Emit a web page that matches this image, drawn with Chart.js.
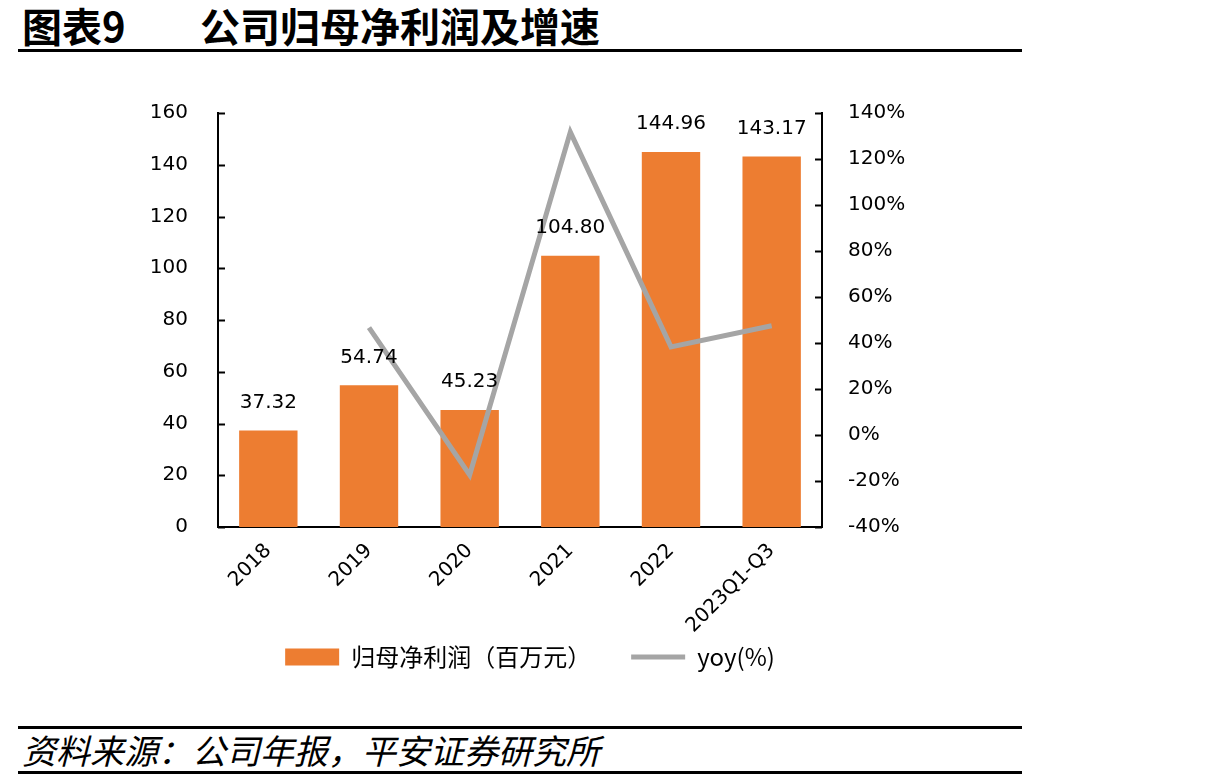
<!DOCTYPE html>
<html>
<head>
<meta charset="utf-8">
<script src="https://cdn.jsdelivr.net/npm/chart.js@4.4.0/dist/chart.umd.min.js"></script>
<style>
  body { margin: 0; width: 1220px; height: 784px; background: #fff; position: relative; overflow: hidden; font-family: "Noto Sans CJK SC", sans-serif; color: #000; }
  .title { position: absolute; top: 1px; font-size: 40px; font-weight: bold; line-height: 48px; white-space: nowrap; }
  .rule { position: absolute; left: 18px; width: 1004px; height: 3px; background: #000; }
  #src { position: absolute; left: 22px; top: 729px; font-size: 34px; font-style: italic; line-height: 42px; white-space: nowrap; }
  #wrap { position: absolute; left: 0; top: 60px; width: 1020px; height: 660px; }
</style>
</head>
<body>
<div class="title" style="left:22px">图表9</div>
<div class="title" style="left:200px">公司归母净利润及增速</div>
<div class="rule" style="top:49px"></div>
<div id="wrap"><canvas id="chart"></canvas></div>
<div class="rule" style="top:726px"></div>
<div id="src">资料来源：公司年报，平安证券研究所</div>
<div class="rule" style="top:771px"></div>
<script>
const categories = ['2018', '2019', '2020', '2021', '2022', '2023Q1-Q3'];
const profit = [37.32, 54.74, 45.23, 104.80, 144.96, 143.17];
const yoy = [null, 46.7, -17.4, 131.7, 38.3, 47.5];

const tickFont = { family: 'DejaVu Sans', size: 20 };

// ticks point inward like the original, plus value labels over bars
const extras = {
  id: 'extras',
  afterLayout(chart) {
    // legend sits a bit right of centre and closer to the axis in the original
    const lg = chart.legend;
    lg.left += 20;
    lg.right += 20;
    lg.top -= 30;
    lg.bottom -= 30;
  },
  afterDatasetsDraw(chart) {
    const ctx = chart.ctx;
    const area = chart.chartArea;
    ctx.save();
    ctx.strokeStyle = '#000';
    ctx.lineWidth = 2;
    ['y', 'y1'].forEach(id => {
      const s = chart.scales[id];
      const x0 = id === 'y' ? area.left : area.right;
      const dir = id === 'y' ? 1 : -1;
      s.ticks.forEach(t => {
        const py = Math.round(s.getPixelForValue(t.value)) + 0.5;
        ctx.beginPath();
        ctx.moveTo(x0, py);
        ctx.lineTo(x0 + dir * 7, py);
        ctx.stroke();
      });
    });
    const meta = chart.getDatasetMeta(0);
    ctx.fillStyle = '#000';
    ctx.font = '20px "DejaVu Sans"';
    ctx.textAlign = 'center';
    ctx.textBaseline = 'middle';
    meta.data.forEach((bar, i) => {
      ctx.fillText(profit[i].toFixed(2), bar.x, bar.y - 28);
    });
    ctx.restore();
  }
};

new Chart(document.getElementById('chart'), {
  data: {
    labels: categories,
    datasets: [
      {
        type: 'bar',
        label: '归母净利润（百万元）',
        data: profit,
        backgroundColor: '#ED7D31',
        barPercentage: 0.58,
        categoryPercentage: 1,
        yAxisID: 'y',
        order: 2
      },
      {
        type: 'line',
        label: 'yoy(%)',
        data: yoy,
        borderColor: '#A5A5A5',
        backgroundColor: '#A5A5A5',
        borderWidth: 5,
        pointRadius: 0,
        tension: 0,
        yAxisID: 'y1',
        order: 1
      }
    ]
  },
  options: {
    responsive: true,
    maintainAspectRatio: false,
    animation: false,
    layout: { padding: { top: 53, bottom: 11, left: 0, right: 0 } },
    plugins: {
      tooltip: { enabled: false },
      legend: {
        position: 'bottom',
        labels: {
          color: '#000',
          font: { family: 'Noto Sans CJK SC', size: 24 },
          usePointStyle: true,
          pointStyleWidth: 54,
          boxHeight: 17,
          padding: 40,
          sort: (a, b) => a.datasetIndex - b.datasetIndex,
          generateLabels(chart) {
            const items = Chart.defaults.plugins.legend.labels.generateLabels(chart);
            items.forEach(it => {
              if (it.datasetIndex === 0) {
                it.pointStyle = 'rect';
                it.lineWidth = 0;
              } else {
                it.pointStyle = 'line';
                it.lineWidth = 5;
                it.strokeStyle = '#A5A5A5';
              }
            });
            return items;
          }
        }
      }
    },
    scales: {
      x: {
        grid: { display: false },
        border: { display: true, color: '#000', width: 2 },
        ticks: { color: '#000', font: tickFont, minRotation: 45, maxRotation: 45, padding: 4 },
        afterFit(s) { s.height = 108; }
      },
      y: {
        position: 'left',
        min: 0, max: 160,
        grid: { display: false },
        border: { display: true, color: '#000', width: 2 },
        ticks: { stepSize: 20, color: '#000', font: tickFont, padding: 22 },
        afterFit(s) { s.width = 218; }
      },
      y1: {
        position: 'right',
        min: -40, max: 140,
        grid: { display: false },
        border: { display: true, color: '#000', width: 2 },
        ticks: { stepSize: 20, color: '#000', font: tickFont, padding: 18, callback: v => v + '%' },
        afterFit(s) { s.width = 198; }
      }
    }
  },
  plugins: [extras]
});
</script>
</body>
</html>
